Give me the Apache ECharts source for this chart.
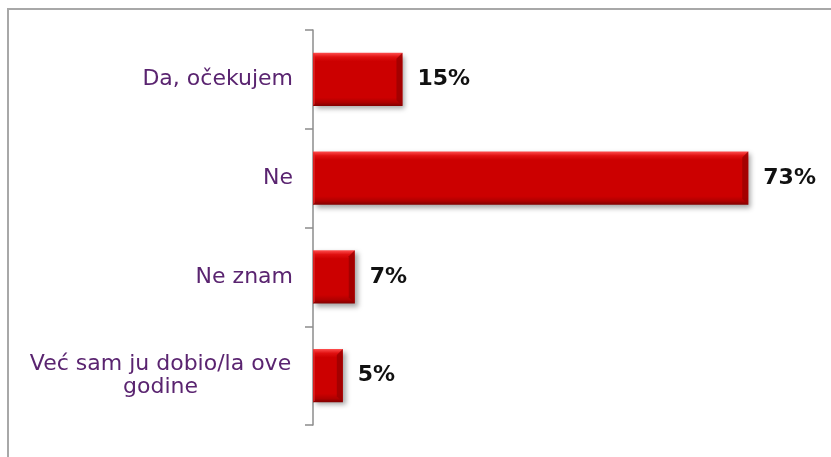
<!DOCTYPE html>
<html>
<head>
<meta charset="utf-8">
<script src="https://cdn.jsdelivr.net/npm/echarts@6/dist/echarts.min.js"></script>
<style>
  html, body { margin: 0; padding: 0; background: #fff; }
  #main { width: 831px; height: 457px; }
</style>
</head>
<body>
<div id="main"></div>
<script>
// odgovori (od vrha prema dnu)
const categories = ['Da, očekujem', 'Ne', 'Ne znam', 'Već sam ju dobio/la ove\ngodine'];
const values = [15, 73, 7, 5];

const chart = echarts.init(document.getElementById('main'));

// tamni rub na desnom kraju stupca (3D efekt)
function bevel(params, api) {
  const end = api.coord([api.value(0), api.value(1)]);
  const start = api.coord([0, api.value(1)]);
  const h = api.size([0, 1])[1] * 0.54;
  const x1 = end[0], y0 = end[1] - h / 2, y1 = end[1] + h / 2;
  const b = Math.min(6, (x1 - start[0]) / 3);
  return {
    type: 'group',
    children: [{
      type: 'polygon',
      shape: { points: [[x1 - b, y0 + b], [x1, y0], [x1, y1], [x1 - b, y1 - b]] },
      style: { fill: '#9a0000', opacity: 0.8 }
    }, {
      type: 'polygon',
      shape: { points: [[start[0], y0], [start[0] + 2, y0 + 2], [start[0] + 2, y1 - 2], [start[0], y1]] },
      style: { fill: '#e23030', opacity: 0.6 }
    }]
  };
}

chart.setOption({
  animation: false,
  backgroundColor: '#fff',
  graphic: [{
    type: 'rect',
    shape: { x: 8, y: 9, width: 900, height: 500 },
    style: { fill: 'none', stroke: '#a8a8a8', lineWidth: 2 },
    silent: true
  }],
  grid: { left: 313, right: 41, top: 30, bottom: 32 },
  xAxis: {
    type: 'value',
    min: 0,
    max: 80,
    show: false,
    splitLine: { show: false }
  },
  yAxis: {
    type: 'category',
    inverse: true,
    data: categories,
    axisLine: { show: true, lineStyle: { color: '#8c8c8c', width: 1.5 } },
    axisTick: { show: true, length: 8, lineStyle: { color: '#8c8c8c', width: 1.5 } },
    axisLabel: {
      margin: 20,
      color: '#5a2470',
      fontFamily: 'DejaVu Sans',
      fontSize: 22,
      lineHeight: 23,
      formatter: function (v) {
        if (v.indexOf('\n') < 0) return v;
        // dvoredni natpis centriran kao u Excelu
        return v.split('\n').map(function (s) { return '{c|' + s + '}'; }).join('\n');
      },
      rich: {
        c: {
          width: 265,
          align: 'center',
          color: '#5a2470',
          fontFamily: 'DejaVu Sans',
          fontSize: 22,
          lineHeight: 23
        }
      }
    }
  },
  series: [{
    type: 'bar',
    data: values,
    barCategoryGap: '46%',
    itemStyle: {
      color: new echarts.graphic.LinearGradient(0, 0, 0, 1, [
        { offset: 0, color: '#ff5050' },
        { offset: 0.08, color: '#e01010' },
        { offset: 0.16, color: '#cc0000' },
        { offset: 0.84, color: '#cc0000' },
        { offset: 0.93, color: '#b00000' },
        { offset: 1, color: '#800000' }
      ]),
      shadowColor: 'rgba(0,0,0,0.35)',
      shadowBlur: 5,
      shadowOffsetX: 3,
      shadowOffsetY: 3
    },
    label: {
      show: true,
      position: 'right',
      distance: 15,
      formatter: '{c}%',
      color: '#111',
      fontFamily: 'DejaVu Sans',
      fontWeight: 'bold',
      fontSize: 22
    }
  }, {
    type: 'custom',
    renderItem: bevel,
    silent: true,
    data: values.map(function (v, i) { return [v, i]; }),
    encode: { x: 0, y: 1 },
    z: 3
  }]
});
</script>
</body>
</html>
